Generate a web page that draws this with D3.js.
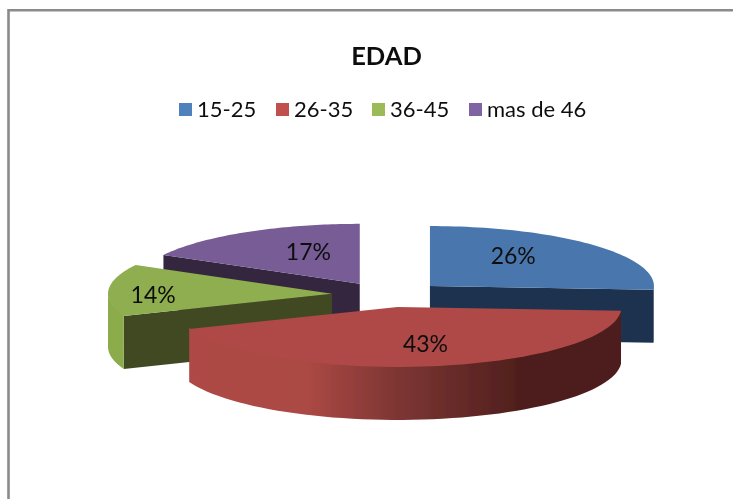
<!DOCTYPE html>
<html>
<head>
<meta charset="utf-8">
<script src="https://cdn.jsdelivr.net/npm/d3@7"></script>
<style>
  body { margin: 0; background: white; }
  text { font-family: Lato, sans-serif; fill: #111; }
</style>
</head>
<body>
<svg id="chart" width="733" height="499"></svg>
<script>
// data
var categories = ["15-25", "26-35", "36-45", "mas de 46"];
var percents = [26, 43, 14, 17];
var legendColors = ["#4f81bd", "#c0504d", "#9bbb59", "#8064a2"];
var topColors = ["#4877ad", "#ae4a46", "#8fae4f", "#775b95"];
var wallColors = ["#1f3350", "#4e1e1c", "#3f4a23", "#35263f"];

var width = 733, height = 499;
var svg = d3.select("#chart");
var defs = svg.append("defs");

// soft look of the screenshot
defs.append("filter").attr("id", "soft")
    .append("feGaussianBlur").attr("stdDeviation", 0.45);

////////////////////////////////////////////////////////////////////////////////////
// page frame
svg.append("path")
   .attr("d", "M8.5," + height + "V10.3H" + width)
   .attr("fill", "none")
   .attr("stroke", "#8a8a8a")
   .attr("stroke-width", 2.6);

////////////////////////////////////////////////////////////////////////////////////
// pie geometry
var cx = 388.6, cy = 294.6;  // centre of the pie before exploding
var rx = 224, ry = 60;       // top ellipse
var depth = 53;              // thickness
var explodeX = 56.7, explodeY = 12.5;

var pie = d3.pie().sort(null).value(function(d) { return d; });
var slices = pie(percents);

// angle 0 is 12 o'clock, going clockwise, as d3.pie does
var xPos = function(a) { return rx * Math.sin(a); };
var yPos = function(a) { return -ry * Math.cos(a); };
var line = d3.line();

function rim(a0, a1, dy) {
  var n = 60;
  return d3.range(n + 1).map(function(i) {
    var a = a0 + (a1 - a0) * i / n;
    return [xPos(a), yPos(a) + dy];
  });
}

slices.forEach(function(s, i) {
  s.index = i;
  s.mid = (s.startAngle + s.endAngle) / 2;
  s.ox = cx + explodeX * Math.sin(s.mid);
  s.oy = cy - explodeY * Math.cos(s.mid);
});

// gradient across the front of the big slice, in the slice's own units
var grad = defs.append("linearGradient")
    .attr("id", "redWall")
    .attr("gradientUnits", "userSpaceOnUse")
    .attr("x1", -rx).attr("x2", rx).attr("y1", 0).attr("y2", 0);
[[0, "#ae4a46"], [0.3, "#ab4844"], [0.5, "#7d3633"], [0.78, "#4e1e1c"], [1, "#4e1e1c"]].forEach(function(d) {
  grad.append("stop").attr("offset", d[0]).attr("stop-color", d[1]);
});

var pieGroup = svg.append("g").attr("filter", "url(#soft)");

function drawSlice(s) {
  var g = pieGroup.append("g")
                  .attr("transform", "translate(" + s.ox + "," + s.oy + ")");
  var wall = wallColors[s.index];

  // cut faces, only the ones looking at the viewer
  var startSeen = Math.sin(s.startAngle) < 0;
  var endSeen = Math.sin(s.endAngle) > 0;
  [[s.startAngle, startSeen], [s.endAngle, endSeen]].forEach(function(f) {
    if (!f[1]) return;
    var rimX = xPos(f[0]), rimY = yPos(f[0]);
    g.append("path")
     .attr("d", line([[0, 0], [rimX, rimY], [rimX, rimY + depth], [0, depth]]) + "Z")
     .attr("fill", wall);
  });

  // outer wall, only the front half of the rim is seen
  // starts a little above the rim so no light seam shows under the top face
  var a0 = Math.max(s.startAngle, Math.PI / 2);
  var a1 = Math.min(s.endAngle, Math.PI * 3 / 2);
  if (a1 > a0) {
    var pts = rim(a0, a1, -1).concat(rim(a0, a1, depth).reverse());
    g.append("path")
     .attr("d", line(pts) + "Z")
     .attr("fill", s.index == 1 ? "url(#redWall)" : s.index == 2 ? "#8cab4c" : wall);
  }

  // top face
  var top = [[0, 0]].concat(rim(s.startAngle, s.endAngle, 0));
  g.append("path")
   .attr("d", line(top) + "Z")
   .attr("fill", topColors[s.index]);
}

// back slices first
[3, 0, 2, 1].forEach(function(i) { drawSlice(slices[i]); });

// percentage labels, as a share of the way from apex to rim
var labelShare = [[0.51, 0.75], [0.8, 0.6], [0.8, 0], [0.45, 0.63]];
var labels = svg.append("g").attr("filter", "url(#soft)");
slices.forEach(function(s, i) {
  labels.append("text")
     .attr("x", s.ox + labelShare[i][0] * xPos(s.mid))
     .attr("y", s.oy + labelShare[i][1] * yPos(s.mid))
     .attr("text-anchor", "middle")
     .attr("dominant-baseline", "central")
     .attr("font-size", 23)
     .text(percents[i] + "%");
});

////////////////////////////////////////////////////////////////////////////////////
// title and legend
var head = svg.append("g").attr("filter", "url(#soft)");
head.append("text")
   .attr("x", 386.5)
   .attr("y", 65)
   .attr("text-anchor", "middle")
   .attr("font-size", 25.5)
   .attr("font-weight", "bold")
   .text("EDAD");

var legendLeft = [179, 276, 372, 469];
categories.forEach(function(c, i) {
  head.append("rect")
     .attr("x", legendLeft[i]).attr("y", 103)
     .attr("width", 13).attr("height", 13)
     .attr("fill", legendColors[i]);
  head.append("text")
     .attr("x", legendLeft[i] + 18)
     .attr("y", 117)
     .attr("font-size", 22)
     .text(c);
});
</script>
</body>
</html>
